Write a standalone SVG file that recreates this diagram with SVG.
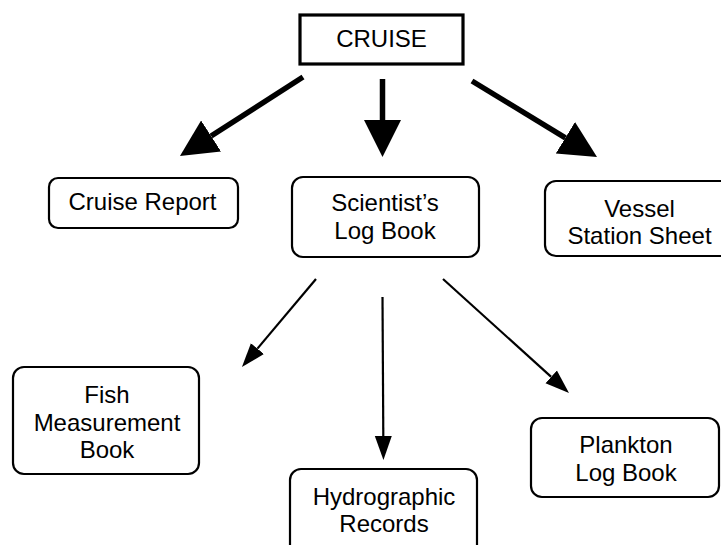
<svg xmlns="http://www.w3.org/2000/svg" width="721" height="545" viewBox="0 0 721 545">
<style>
.box{fill:#fff;stroke:#000;stroke-width:2.2}
.top{fill:#fff;stroke:#000;stroke-width:3.2}
text{font-family:"Liberation Sans",Arial,sans-serif;font-size:24px;fill:#000;text-anchor:middle}
.thick{stroke:#000;stroke-width:5.5;fill:none}
.thin{stroke:#000;stroke-width:2.2;fill:none}
</style>
<defs>
<marker id="hb" markerUnits="userSpaceOnUse" viewBox="0 -20 40 40" refX="0" refY="0" markerWidth="40" markerHeight="40" orient="auto">
<path d="M0,-18.5 L37,0 L0,18.5 Z" fill="#000"/>
</marker>
<marker id="hs" markerUnits="userSpaceOnUse" viewBox="0 -10 26 20" refX="0" refY="0" markerWidth="26" markerHeight="20" orient="auto">
<path d="M0,-8.5 L24,0 L0,8.5 Z" fill="#000"/>
</marker>
</defs>
<rect width="721" height="545" fill="#fff"/>
<g id="connectors">
<line class="thick" x1="303" y1="77" x2="211.1" y2="136" marker-end="url(#hb)"/>
<line class="thick" x1="382.5" y1="79" x2="382.5" y2="120" marker-end="url(#hb)"/>
<line class="thick" x1="472" y1="81" x2="565.4" y2="137.8" marker-end="url(#hb)"/>
<line class="thin" x1="316" y1="279" x2="257.4" y2="348.6" marker-end="url(#hs)"/>
<line class="thin" x1="382.5" y1="297" x2="383.3" y2="436" marker-end="url(#hs)"/>
<line class="thin" x1="443" y1="279" x2="551.2" y2="376.9" marker-end="url(#hs)"/>
</g>
<g id="cruise">
<rect class="top" x="300" y="15" width="163" height="49"/>
<text x="381.5" y="47">CRUISE</text>
</g>
<g id="cruise-report">
<rect class="box" x="49" y="178" width="189" height="50" rx="9"/>
<text x="142.5" y="210">Cruise Report</text>
</g>
<g id="scientists-log-book">
<rect class="box" x="292" y="177" width="187" height="80" rx="11"/>
<text x="385" y="211">Scientist’s</text>
<text x="385" y="239">Log Book</text>
</g>
<g id="vessel-station-sheet">
<rect class="box" x="545" y="181" width="189" height="75" rx="11"/>
<text x="639.5" y="217">Vessel</text>
<text x="639.5" y="244">Station Sheet</text>
</g>
<g id="fish-measurement-book">
<rect class="box" x="13" y="367" width="186" height="107" rx="11"/>
<text x="107" y="403">Fish</text>
<text x="107" y="431">Measurement</text>
<text x="107" y="458">Book</text>
</g>
<g id="hydrographic-records">
<rect class="box" x="290" y="469" width="187" height="90" rx="11"/>
<text x="384" y="505">Hydrographic</text>
<text x="384" y="532">Records</text>
</g>
<g id="plankton-log-book">
<rect class="box" x="531" y="418" width="188" height="79" rx="11"/>
<text x="626" y="453">Plankton</text>
<text x="626" y="481">Log Book</text>
</g>
</svg>
